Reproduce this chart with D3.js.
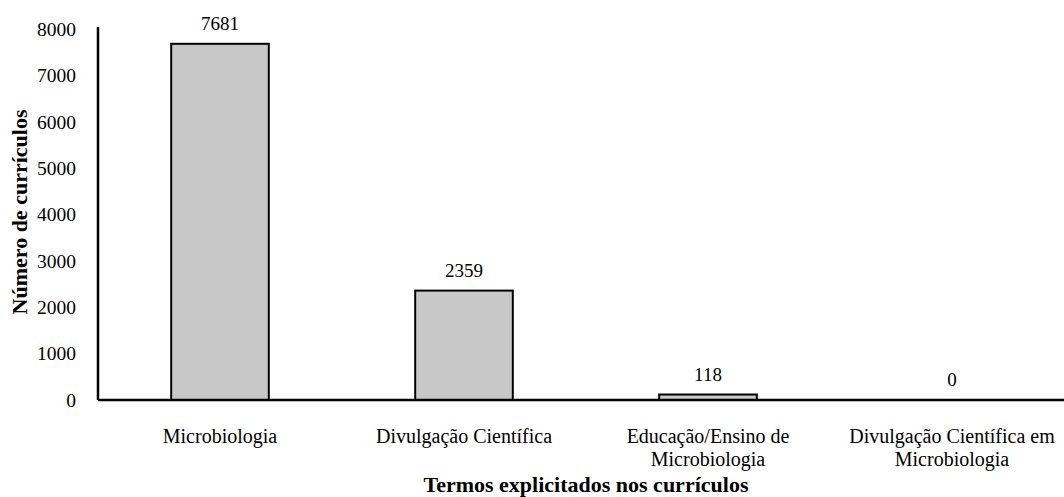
<!DOCTYPE html>
<html>
<head>
<meta charset="utf-8">
<script src="https://cdn.jsdelivr.net/npm/d3@7"></script>
<style>
  body { margin: 0; background: #fff; }
  text { font-family: "Liberation Serif", "Times New Roman", serif; fill: #000; }
</style>
</head>
<body>
<div id="chart"></div>
<script>
// Data
const categories = [
    ["Microbiologia"],
    ["Divulgação Científica"],
    ["Educação/Ensino de", "Microbiologia"],
    ["Divulgação Científica em", "Microbiologia"]
];
const values = [7681, 2359, 118, 0];
const yTicks = [0, 1000, 2000, 3000, 4000, 5000, 6000, 7000, 8000];

const width = 1064;
const height = 497;
const margin = { top: 29, left: 98, bottom: 97 };

const svg = d3.select("#chart")
    .append("svg")
    .attr("width", width)
    .attr("height", height);

// Scales
const xScale = d3.scaleBand()
    .domain(d3.range(values.length))
    .range([margin.left, margin.left + 976])
    .paddingInner(0.6)
    .paddingOuter(0.3);

const yScale = d3.scaleLinear()
    .domain([0, 8000])
    .range([height - margin.bottom, margin.top]);

// Bars
svg.selectAll(".bar")
    .data(values)
    .enter()
    .append("rect")
    .attr("class", "bar")
    .attr("x", (d, i) => xScale(i))
    .attr("y", d => yScale(d))
    .attr("width", xScale.bandwidth())
    .attr("height", d => yScale(0) - yScale(d))
    .attr("fill", "#c8c8c8")
    .attr("stroke", "#000")
    .attr("stroke-width", 2);

// Value labels
svg.selectAll(".value")
    .data(values)
    .enter()
    .append("text")
    .attr("class", "value")
    .attr("x", (d, i) => xScale(i) + xScale.bandwidth() / 2)
    .attr("y", d => yScale(d) - 14)
    .attr("text-anchor", "middle")
    .style("font-size", "19px")
    .text(d => d);

// Y axis (no tick marks)
const yAxis = svg.append("g")
    .attr("transform", `translate(${margin.left},0)`)
    .call(d3.axisLeft(yScale).tickValues(yTicks).tickSize(0).tickPadding(22).tickFormat(d3.format("d")));
yAxis.select(".domain").attr("stroke", "#000").attr("stroke-width", 2.5).attr("d", `M0,${yScale(0)}V${margin.top - 2}`);
yAxis.selectAll("text").style("font-size", "19.5px").style("font-family", "Liberation Serif");

// X axis line
svg.append("line")
    .attr("x1", margin.left)
    .attr("x2", width)
    .attr("y1", yScale(0))
    .attr("y2", yScale(0))
    .attr("stroke", "#000")
    .attr("stroke-width", 2.5);

// Category labels
const cat = svg.selectAll(".cat")
    .data(categories)
    .enter()
    .append("text")
    .attr("class", "cat")
    .attr("text-anchor", "middle")
    .attr("x", (d, i) => xScale(i) + xScale.bandwidth() / 2)
    .attr("y", 443)
    .style("font-size", "20px");
cat.selectAll("tspan")
    .data(d => d)
    .enter()
    .append("tspan")
    .attr("x", function () { return d3.select(this.parentNode).attr("x"); })
    .attr("dy", (d, i) => i === 0 ? 0 : 23)
    .text(d => d);

// Axis titles
svg.append("text")
    .attr("x", 586)
    .attr("y", 492)
    .attr("text-anchor", "middle")
    .style("font-size", "22px")
    .style("font-weight", "bold")
    .text("Termos explicitados nos currículos");

svg.append("text")
    .attr("transform", "translate(27,212) rotate(-90)")
    .attr("text-anchor", "middle")
    .style("font-size", "22px")
    .style("font-weight", "bold")
    .text("Número de currículos");
</script>
</body>
</html>
